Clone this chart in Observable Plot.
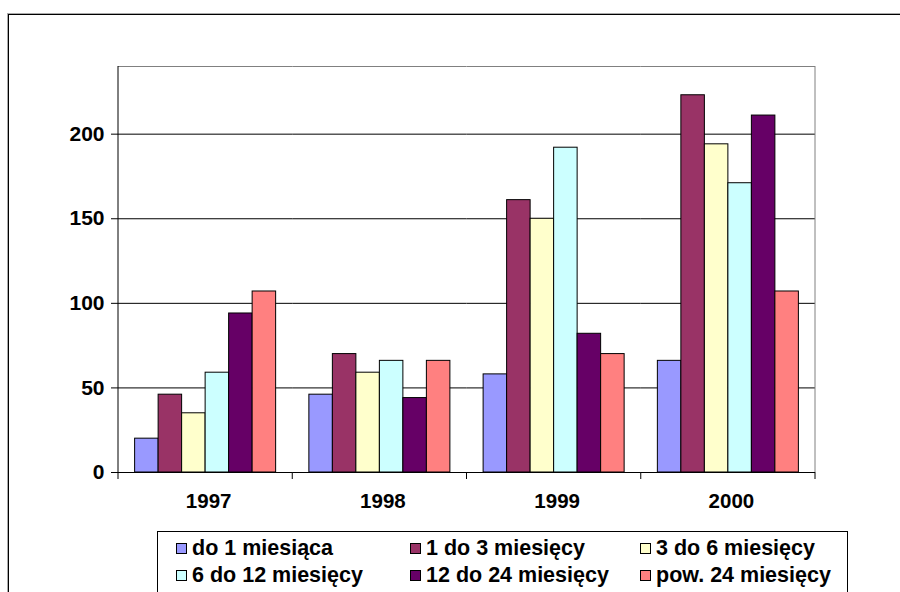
<!DOCTYPE html>
<html>
<head>
<meta charset="utf-8">
<script src="https://cdn.jsdelivr.net/npm/d3@7"></script>
<script src="https://cdn.jsdelivr.net/npm/@observablehq/plot@0.6"></script>
<style>
  html, body { margin: 0; padding: 0; background: #fff; width: 900px; height: 592px; overflow: hidden; }
  #wrap { position: relative; width: 900px; height: 592px; }
  #frame { position: absolute; left: 8px; top: 14px; width: 1000px; height: 1000px;
           border-top: 1px solid #000; border-left: 1px solid #000;
           box-shadow: -1px -1px 0 #aaa; pointer-events: none; z-index: 5; }
  #chart { position: absolute; left: 0; top: 0; }
  #legend { position: absolute; left: 157px; top: 531px; width: 691px; height: 100px;
            border: 1px solid #000; background: #fff; box-sizing: border-box;
            padding: 3px 0 0 18px; display: grid; grid-template-columns: 234px 230px 220px;
            grid-auto-rows: 27px; font-family: "Liberation Sans", Arial, sans-serif;
            font-weight: bold; font-size: 21.5px; color: #000; z-index: 4; }
  .item { display: flex; align-items: center; white-space: nowrap; }
  .sw { width: 9px; height: 9px; border: 1px solid #000; margin-right: 5px; flex: none; }
</style>
</head>
<body>
<div id="wrap">
  <div id="chart"></div>
  <div id="legend"></div>
  <div id="frame"></div>
</div>
<script>
const years = ["1997", "1998", "1999", "2000"];
const series = ["do 1 miesiąca", "1 do 3 miesięcy", "3 do 6 miesięcy", "6 do 12 miesięcy", "12 do 24 miesięcy", "pow. 24 miesięcy"];
const colors = ["#9999FF", "#993366", "#FFFFCC", "#CCFFFF", "#660066", "#FF8080"];
const values1997 = [20, 46, 35, 59, 94, 107];
const values1998 = [46, 70, 59, 66, 44, 66];
const values1999 = [58, 161, 150, 192, 82, 70];
const values2000 = [66, 223, 194, 171, 211, 107];
const yTicks = [0, 50, 100, 150, 200];
const yMax = 240;

const valuesByYear = [values1997, values1998, values1999, values2000];
const data = years.flatMap((yr, i) => series.map((s, j) => ({year: yr, series: s, value: valuesByYear[i][j]})));

const chart = Plot.plot({
  width: 900,
  height: 525,
  marginLeft: 118,
  marginRight: 85,
  marginTop: 66,
  marginBottom: 53,
  style: {fontFamily: "'Liberation Sans', Arial, sans-serif", fontWeight: "bold", fontSize: "20px", color: "#000", background: "transparent", overflow: "visible"},
  fx: {domain: years, padding: 0, round: false, label: null},
  x: {domain: series, paddingInner: 0, paddingOuter: 0.707, round: false, axis: null},
  y: {domain: [0, yMax], label: null},
  color: {domain: series, range: colors},
  marks: [
    Plot.gridY(yTicks.filter(d => d > 0), {stroke: "#000", strokeOpacity: 1}),
    Plot.ruleY([yMax], {stroke: "#808080", strokeWidth: 1}),
    Plot.barY(data, {fx: "year", x: "series", y: "value", fill: "series", stroke: "#000", strokeWidth: 1}),
    Plot.ruleY([0], {stroke: "#000"}),
    Plot.axisY({ticks: yTicks, tickSize: 7, tickPadding: 7, label: null, fontSize: 21, fontWeight: "bold", stroke: "#000"}),
    Plot.axisFx({anchor: "bottom", tickSize: 0, tickPadding: 21, label: null, fontSize: 20.5, fontWeight: "bold", dx: 3})
  ]
});
document.getElementById("chart").appendChild(chart);

// category boundary ticks, y-axis line and right border, from Plot's own scales
const fx = chart.scale("fx");
const y = chart.scale("y");
const svg = d3.select(chart);
const bounds = years.map(yr => fx.apply(yr)).concat([fx.apply(years[years.length - 1]) + fx.bandwidth]);
const g = svg.append("g");
g.selectAll("line.tick").data(bounds).join("line")
  .attr("x1", d => d).attr("x2", d => d)
  .attr("y1", y.apply(0)).attr("y2", y.apply(0) + 7)
  .attr("stroke", "#000");
g.append("line")
  .attr("x1", bounds[0]).attr("x2", bounds[0])
  .attr("y1", y.apply(yMax)).attr("y2", y.apply(0))
  .attr("stroke", "#000");
g.append("line")
  .attr("x1", bounds[bounds.length - 1]).attr("x2", bounds[bounds.length - 1])
  .attr("y1", y.apply(yMax)).attr("y2", y.apply(0))
  .attr("stroke", "#808080");

// legend
const legend = d3.select("#legend");
series.forEach((s, i) => {
  const it = legend.append("div").attr("class", "item");
  it.append("div").attr("class", "sw").style("background", colors[i]);
  it.append("span").text(s);
});
</script>
</body>
</html>
